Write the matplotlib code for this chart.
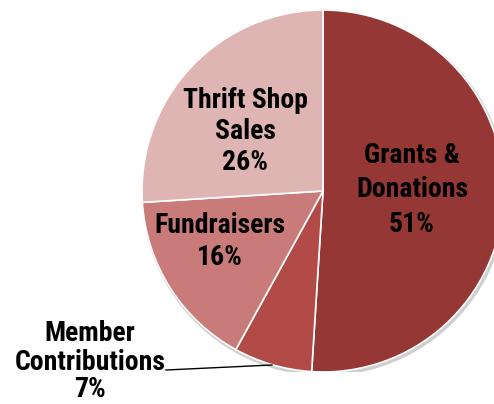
import matplotlib.pyplot as plt
from matplotlib.patches import Circle

# -- Data --
categories = ["Grants &\nDonations", "Member\nContributions", "Fundraisers", "Thrift Shop\nSales"]
shares = [51, 7, 16, 26]
colors = ["#953735", "#B24A47", "#C97B79", "#DFB5B4"]

# -- Figure: pie centre at (323, 191) px, radius 181 px --
W, H = 494, 404
cx, cy, r = 323, 191, 181
fig = plt.figure(figsize=(W / 100, H / 100), dpi=100)
ax = fig.add_axes([(cx - r) / W, (H - cy - r) / H, 2 * r / W, 2 * r / H])

# soft shadow under the pie
ax.add_patch(Circle((0.008, -0.012), 1.005, color="#cfcfcf", zorder=0))
ax.pie(shares, colors=colors, startangle=90, counterclock=False, radius=1,
       wedgeprops=dict(edgecolor="white", linewidth=1.2))
ax.set_xlim(-1, 1)
ax.set_ylim(-1, 1)
ax.axis("off")

# overlay axes in picture pixels (y down) for the labels
ov = fig.add_axes([0, 0, 1, 1])
ov.set_xlim(0, W)
ov.set_ylim(H, 0)
ov.axis("off")

font = dict(family=["Roboto Condensed", "Liberation Sans"], fontweight="bold",
            fontsize=20, ha="center", va="baseline")

# label centre x and the baseline of each line, in picture pixels
label_x = [412, 90, 220, 245]
label_baselines = [[163, 197, 232], [341, 370, 397], [233, 265], [108, 139, 170]]
for name, val, x, bases in zip(categories, shares, label_x, label_baselines):
    lines = name.split("\n") + [f"{val}%"]
    for line, b in zip(lines, bases):
        ov.text(x, b, line, **font)

# leader line for the small slice
ov.plot([166, 272], [370, 365], color="black", linewidth=1)

fig.savefig("out.png", dpi=100)
